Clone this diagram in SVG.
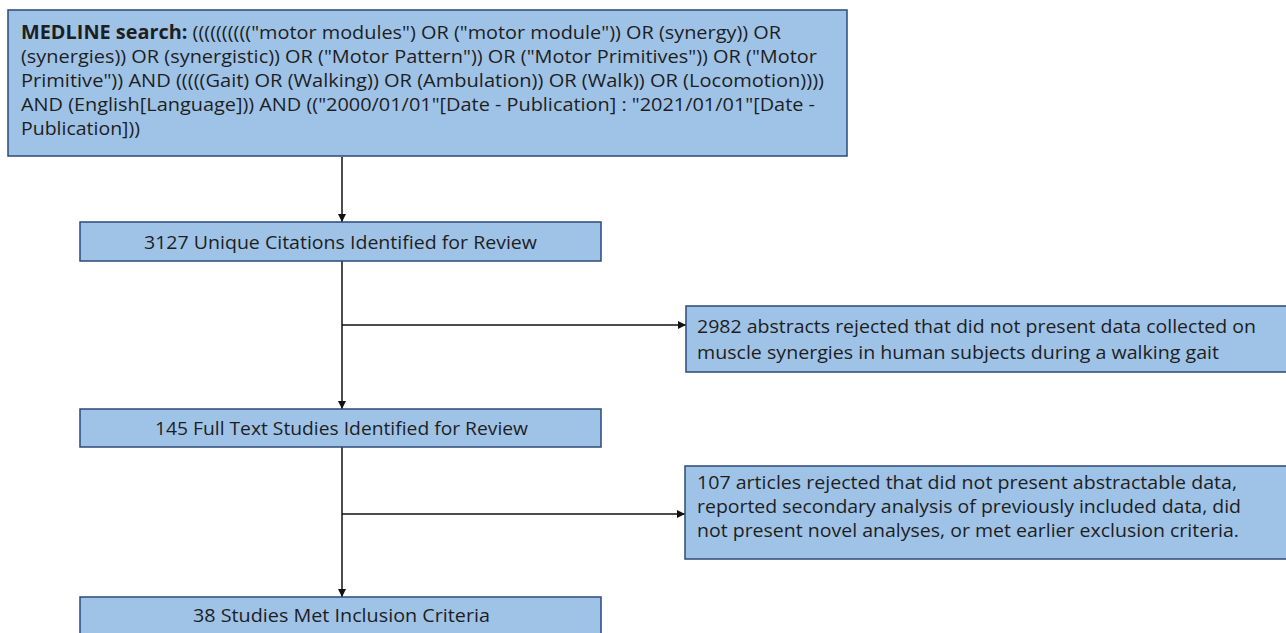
<svg xmlns="http://www.w3.org/2000/svg" width="1286" height="633" viewBox="0 0 1286 633">
<defs>
<style>
.box{fill:#9fc3e7;stroke:#2d4a78;stroke-width:1.5}
.t{font-family:"Open Sans","Noto Sans","Liberation Sans",sans-serif;font-size:19px;fill:#1e1e1e}
.b{font-weight:bold}
.ln{stroke:#111;stroke-width:1.5;fill:none}
</style>
<marker id="ah" viewBox="0 0 10 10" refX="10" refY="5" markerWidth="8" markerHeight="8" markerUnits="userSpaceOnUse" orient="auto">
<path d="M0,0 L10,5 L0,10 z" fill="#111"/>
</marker>
</defs>
<rect width="1286" height="633" fill="#fff"/>
<g id="connectors">
<line class="ln" x1="342" y1="157" x2="342" y2="222" marker-end="url(#ah)"/>
<line class="ln" x1="342" y1="261" x2="342" y2="409" marker-end="url(#ah)"/>
<line class="ln" x1="342" y1="325" x2="686" y2="325" marker-end="url(#ah)"/>
<line class="ln" x1="342" y1="447" x2="342" y2="597" marker-end="url(#ah)"/>
<line class="ln" x1="342" y1="514" x2="685" y2="514" marker-end="url(#ah)"/>
</g>
<g id="search">
<rect class="box" x="8" y="10" width="839" height="146"/>
<text class="t" x="21" y="39" textLength="760" lengthAdjust="spacingAndGlyphs"><tspan class="b">MEDLINE search:</tspan> ((((((((((&quot;motor modules&quot;) OR (&quot;motor module&quot;)) OR (synergy)) OR</text>
<text class="t" x="21" y="63" textLength="796" lengthAdjust="spacingAndGlyphs">(synergies)) OR (synergistic)) OR (&quot;Motor Pattern&quot;)) OR (&quot;Motor Primitives&quot;)) OR (&quot;Motor</text>
<text class="t" x="21" y="87" textLength="803" lengthAdjust="spacingAndGlyphs">Primitive&quot;)) AND (((((Gait) OR (Walking)) OR (Ambulation)) OR (Walk)) OR (Locomotion))))</text>
<text class="t" x="21" y="111" textLength="794" lengthAdjust="spacingAndGlyphs">AND (English[Language])) AND ((&quot;2000/01/01&quot;[Date - Publication] : &quot;2021/01/01&quot;[Date -</text>
<text class="t" x="21" y="135" textLength="119" lengthAdjust="spacingAndGlyphs">Publication]))</text>
</g>
<g id="citations">
<rect class="box" x="80" y="222" width="521" height="39"/>
<text class="t" x="144" y="249" textLength="393" lengthAdjust="spacingAndGlyphs">3127 Unique Citations Identified for Review</text>
</g>
<g id="rejected1">
<rect class="box" x="686" y="306" width="604" height="66"/>
<text class="t" x="697" y="333" textLength="559" lengthAdjust="spacingAndGlyphs">2982 abstracts rejected that did not present data collected on</text>
<text class="t" x="697" y="359" textLength="522" lengthAdjust="spacingAndGlyphs">muscle synergies in human subjects during a walking gait</text>
</g>
<g id="fulltext">
<rect class="box" x="80" y="409" width="521" height="38"/>
<text class="t" x="155" y="435" textLength="373" lengthAdjust="spacingAndGlyphs">145 Full Text Studies Identified for Review</text>
</g>
<g id="rejected2">
<rect class="box" x="685" y="466" width="605" height="93"/>
<text class="t" x="697" y="489" textLength="540" lengthAdjust="spacingAndGlyphs">107 articles rejected that did not present abstractable data,</text>
<text class="t" x="697" y="513" textLength="544" lengthAdjust="spacingAndGlyphs">reported secondary analysis of previously included data, did</text>
<text class="t" x="697" y="537" textLength="542" lengthAdjust="spacingAndGlyphs">not present novel analyses, or met earlier exclusion criteria.</text>
</g>
<g id="included">
<rect class="box" x="80" y="597" width="521" height="50"/>
<text class="t" x="193" y="622" textLength="297" lengthAdjust="spacingAndGlyphs">38 Studies Met Inclusion Criteria</text>
</g>
</svg>
